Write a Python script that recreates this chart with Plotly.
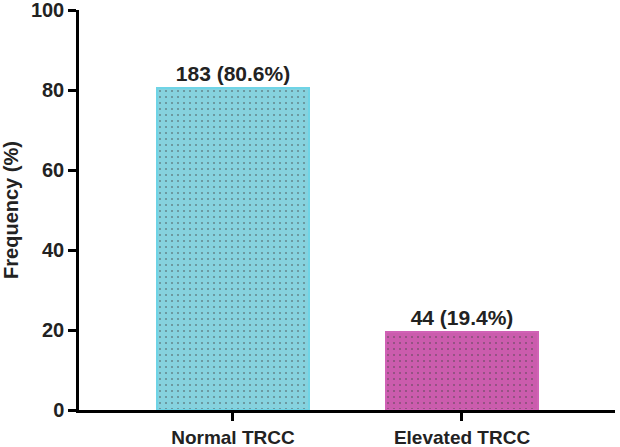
import plotly.graph_objects as go

categories = ["Normal TRCC", "Elevated TRCC"]
counts = [183, 44]
percents = [80.6, 19.4]
labels = [f"{c} ({p}%)" for c, p in zip(counts, percents)]

fill_colors = ["#86D2DE", "#CB5CAD"]
line_colors = ["#6FD4E6", "#D062B5"]
dot_colors = ["#D29AC4", "#7BAE9E"]

fig = go.Figure()
fig.add_trace(go.Bar(
    x=categories, y=percents, text=labels, textposition="outside",
    textfont=dict(family="Liberation Sans, Arial", size=21, color="#222222", weight="bold"),
    width=0.66,
    marker=dict(color=fill_colors, line=dict(color=line_colors, width=2),
                pattern=dict(shape=".", fgcolor=dot_colors, size=6, solidity=0.1)),
    cliponaxis=False,
))

fig.update_layout(
    width=620, height=447,
    margin=dict(l=79, r=5, t=10, b=37),
    plot_bgcolor="white", paper_bgcolor="white",
    showlegend=False,
    font=dict(family="Liberation Sans, Arial", color="#222222"),
    bargap=0,
)
fig.update_xaxes(
    range=[-0.672, 1.668], showline=True, linecolor="black", linewidth=2.5,
    ticks="outside", ticklen=8, tickwidth=2.5, tickcolor="black",
    tickfont=dict(size=19, family="Liberation Sans, Arial", weight="bold"),
    showgrid=False, zeroline=False, automargin=False, ticklabeloverflow="allow",
)
fig.update_yaxes(
    range=[0, 100], tickvals=[0, 20, 40, 60, 80, 100],
    showline=True, linecolor="black", linewidth=2.5,
    ticks="outside", ticklen=8, tickwidth=2.5, tickcolor="black",
    tickfont=dict(size=20, family="Liberation Sans, Arial", weight="bold"),
    title=dict(text="Frequency (%)", font=dict(size=20, weight="bold"), standoff=12),
    showgrid=False, zeroline=False, automargin=False, ticklabeloverflow="allow",
)

fig.write_html("out.html", post_script="document.body.style.margin='0';",
               config={"displayModeBar": False})
